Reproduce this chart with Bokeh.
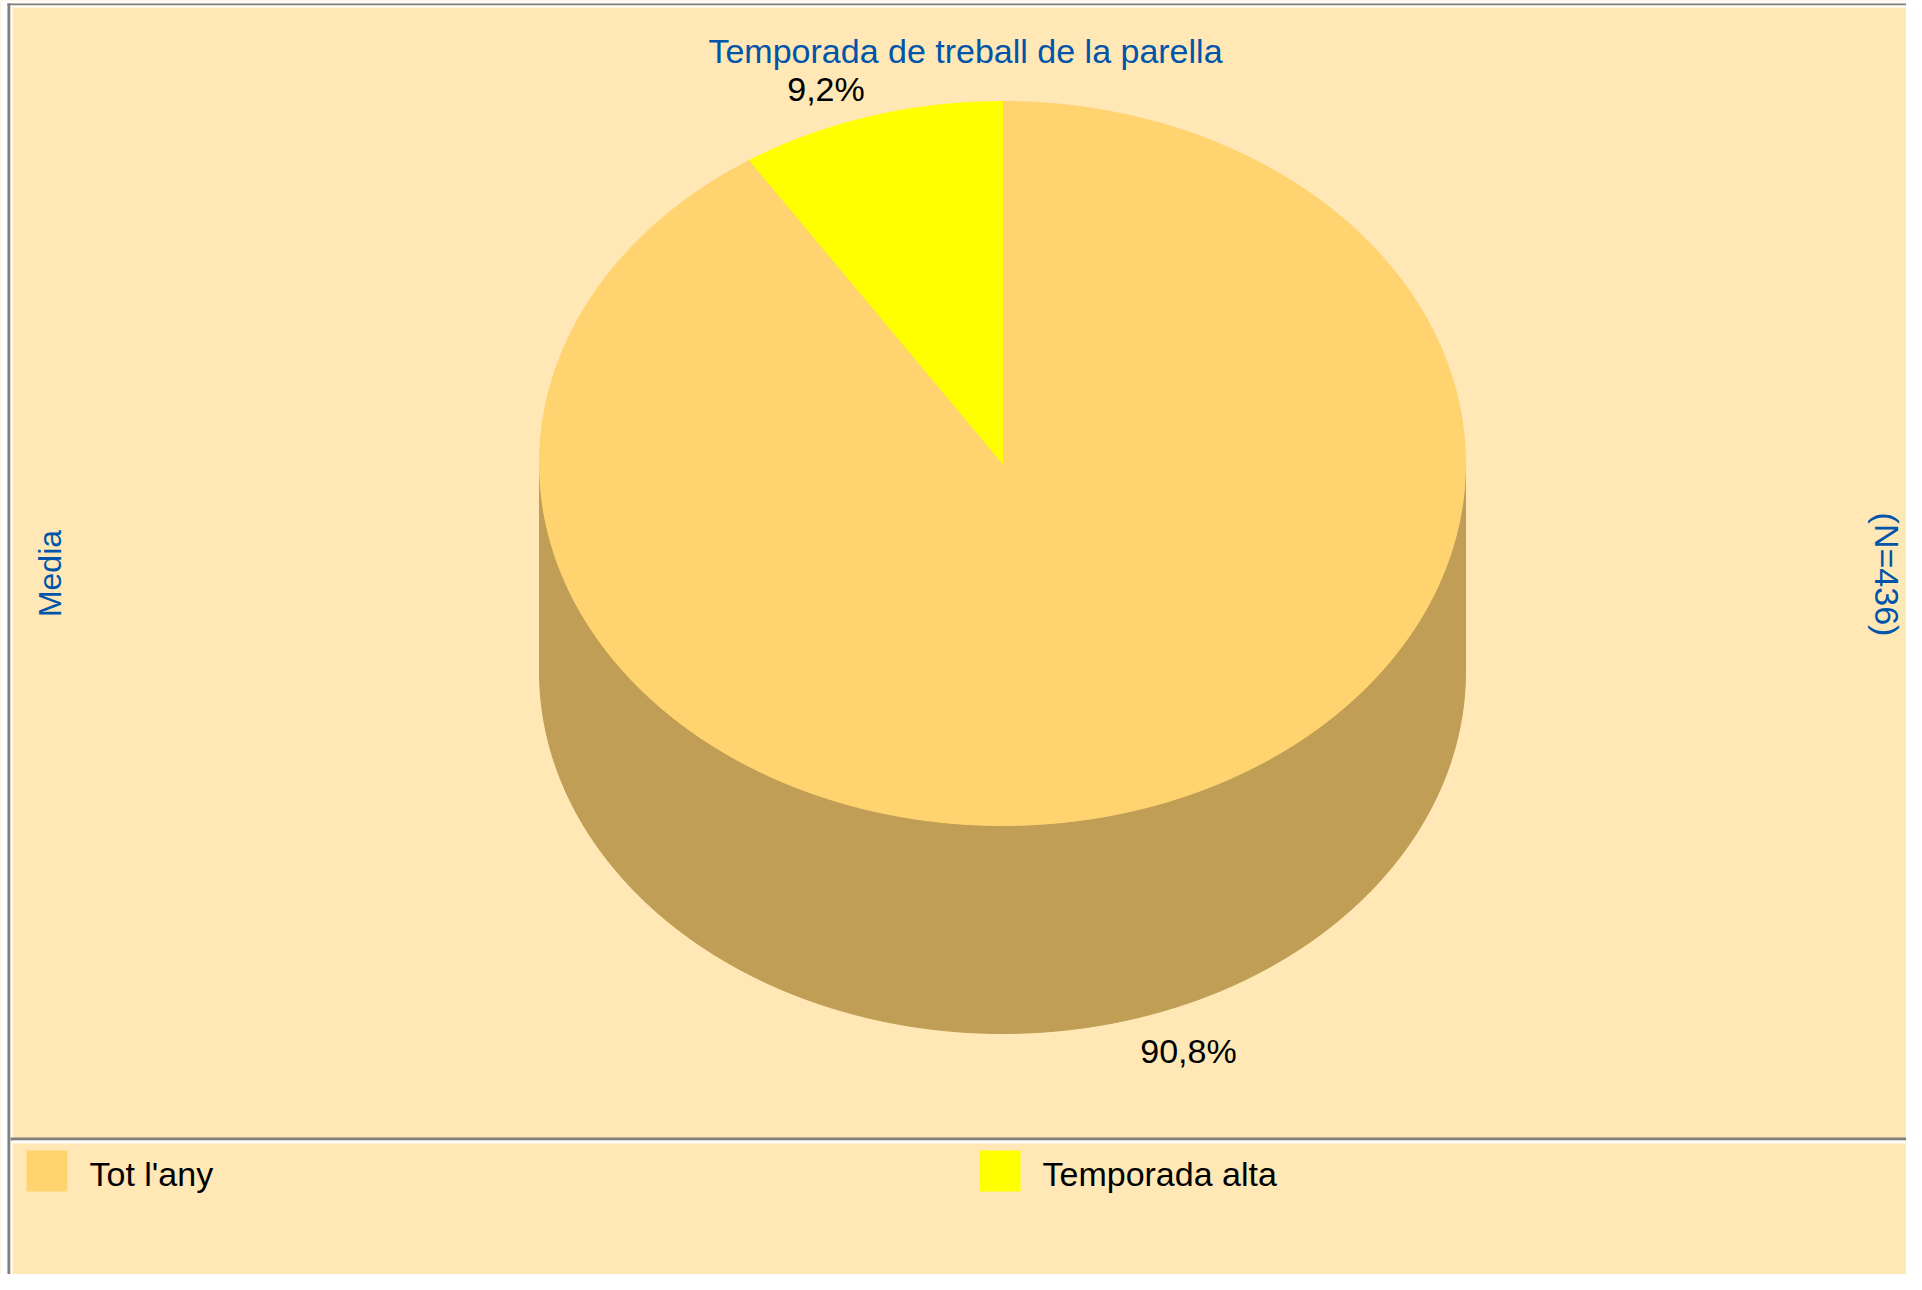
import numpy as np
from bokeh.plotting import figure
from bokeh.models import Range1d
from bokeh.core.properties import value
from bokeh.embed import file_html
from bokeh.resources import INLINE

# ---------------- data ----------------
title_text = "Temporada de treball de la parella"
left_label = "Media"
right_label = "(N=436)"
categories = ["Tot l'any", "Temporada alta"]
percentages = [90.8, 9.2]
value_labels = ["90,8%", "9,2%"]
top_colors = ["#FFD470", "#FFFF00"]
side_colors = ["#C09E55", "#BFBF00"]

# ---------------- style / layout ----------------
BG = "#FFE8B5"
GRAY = "#808080"
BLUE = "#0055AA"
FONT = value("Liberation Sans")
FS_PX = 34
FS = f"{FS_PX}px"
BOFF = 0.35  # measured shift of the rendered baseline below the anchor, in em

W, H = 1906, 1274


def Y(py):
    # picture pixel row -> data y (y up)
    return H - py


p = figure(width=W, height=H, x_range=Range1d(0, W), y_range=Range1d(0, H),
           output_backend="svg", toolbar_location=None, min_border=0,
           x_axis_location=None, y_axis_location=None,
           background_fill_color=BG, border_fill_color=BG, outline_line_color=None)
p.xgrid.grid_line_color = None
p.ygrid.grid_line_color = None

# frame borders (white margin, gray line, white highlight)
p.quad(left=[0], right=[W], top=[Y(0)], bottom=[Y(3)], fill_color="white", line_color=None)
p.quad(left=[0], right=[7], top=[Y(0)], bottom=[Y(H)], fill_color="white", line_color=None)
p.quad(left=[7], right=[W], top=[Y(3)], bottom=[Y(5)], fill_color=GRAY, line_color=None)
p.quad(left=[10], right=[W], top=[Y(5)], bottom=[Y(7)], fill_color="white", line_color=None)
p.quad(left=[7], right=[10], top=[Y(3)], bottom=[Y(H)], fill_color=GRAY, line_color=None)
p.quad(left=[10], right=[12], top=[Y(5)], bottom=[Y(H)], fill_color="white", line_color=None)
p.quad(left=[10], right=[W], top=[Y(1137)], bottom=[Y(1140)], fill_color=GRAY, line_color=None)
p.quad(left=[12], right=[W], top=[Y(1140)], bottom=[Y(1143)], fill_color="white", line_color=None)

# ---------------- 3D pie ----------------
cx, cy = 1002.0, Y(463)
rx, ry = 463.0, 362.0
depth = 208.0

vals = np.array(percentages, dtype=float)
frac = vals / vals.sum()
starts = np.pi / 2 - 2 * np.pi * np.concatenate([[0.0], np.cumsum(frac)[:-1]])
ends = starts - 2 * np.pi * frac

# side walls (front half only)
side_xs, side_ys, side_cols = [], [], []
for i in range(len(vals)):
    a0, a1 = starts[i], ends[i]
    for k in range(-3, 3):
        lo = max(a1, -np.pi + 2 * np.pi * k)
        hi = min(a0, 2 * np.pi * k)
        if hi > lo:
            t = np.linspace(lo, hi, 300)
            xt = cx + rx * np.cos(t)
            yt = cy + ry * np.sin(t)
            side_xs.append(np.concatenate([xt, xt[::-1]]).tolist())
            side_ys.append(np.concatenate([yt, (yt - depth)[::-1]]).tolist())
            side_cols.append(side_colors[i])
if side_xs:
    p.patches(side_xs, side_ys, fill_color=side_cols, line_color=side_cols, line_width=1)

# top faces
top_xs, top_ys = [], []
for i in range(len(vals)):
    t = np.linspace(starts[i], ends[i], 400)
    top_xs.append([cx] + (cx + rx * np.cos(t)).tolist() + [cx])
    top_ys.append([cy] + (cy + ry * np.sin(t)).tolist() + [cy])
p.patches(top_xs, top_ys, fill_color=top_colors, line_color=top_colors, line_width=1)

# value labels
kf = 1.044
for i in range(len(vals)):
    mid = (starts[i] + ends[i]) / 2
    lx = cx + rx * kf * np.cos(mid)
    ly = cy + ry * kf * np.sin(mid)          # baseline for upper labels
    if np.sin(mid) < 0:
        ly = ly - depth - 0.85 * FS_PX       # baseline for lower labels
    align = "right" if np.cos(mid) < 0 else "left"
    p.text(x=[lx], y=[ly + BOFF * FS_PX], text=[value_labels[i]], text_align=align,
           text_baseline="alphabetic", text_font=FONT, text_font_size=FS,
           text_color="black")

# ---------------- texts ----------------
p.text(x=[965], y=[Y(62) + BOFF * FS_PX], text=[title_text], text_align="center",
       text_baseline="alphabetic", text_font=FONT, text_font_size=FS, text_color=BLUE)
p.text(x=[61 - BOFF * 32], y=[Y(573)], text=[left_label], angle=np.pi / 2,
       text_align="center", text_baseline="alphabetic", text_font=FONT,
       text_font_size="32px", text_color=BLUE)
p.text(x=[1875 + BOFF * FS_PX], y=[Y(574)], text=[right_label], angle=-np.pi / 2,
       text_align="center", text_baseline="alphabetic", text_font=FONT,
       text_font_size=FS, text_color=BLUE)

# ---------------- legend ----------------
leg_x0, leg_step = 26, 953
lefts = [leg_x0 + i * leg_step for i in range(len(categories))]
p.quad(left=lefts, right=[l + 41 for l in lefts], top=[Y(1150)] * len(lefts),
       bottom=[Y(1191)] * len(lefts), fill_color=top_colors, line_color=None)
p.text(x=[l + 63 for l in lefts], y=[Y(1185) + BOFF * FS_PX] * len(lefts), text=categories,
       text_align="left", text_baseline="alphabetic", text_font=FONT,
       text_font_size=FS, text_color="black")

open("out.html", "w").write(file_html(p, INLINE))
